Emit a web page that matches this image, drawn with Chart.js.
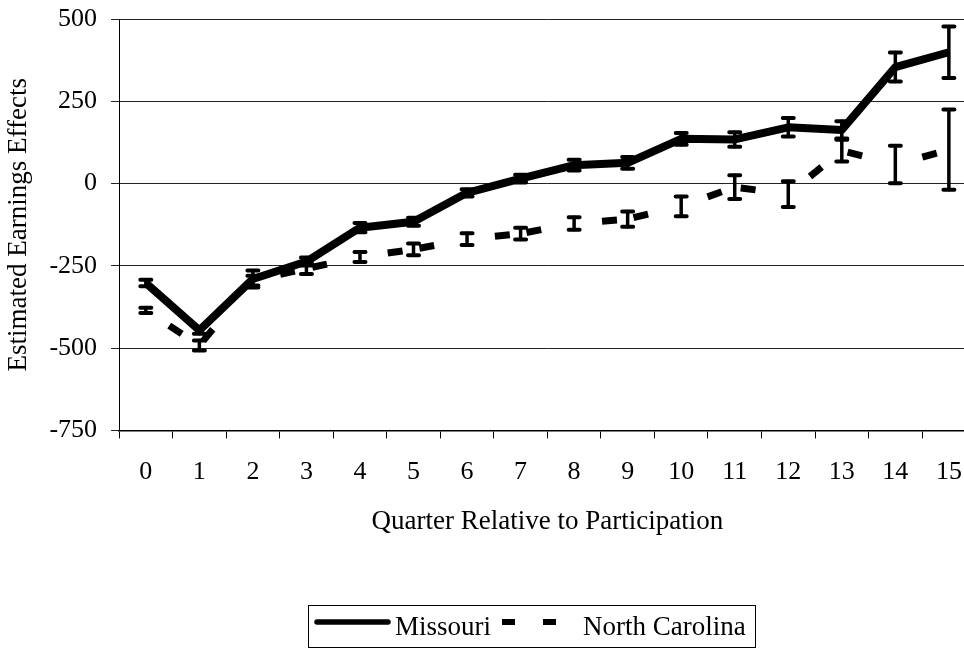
<!DOCTYPE html>
<html>
<head>
<meta charset="utf-8">
<script src="https://cdn.jsdelivr.net/npm/chart.js@4/dist/chart.umd.min.js"></script>
<style>
  html, body { margin: 0; padding: 0; background: #fff; overflow: hidden; }
  #wrap { width: 980px; height: 650px; }
</style>
</head>
<body>
<div id="wrap"><canvas id="c" width="980" height="650"></canvas></div>
<script>
// Quarters relative to program participation
const quarters = ['0', '1', '2', '3', '4', '5', '6', '7', '8', '9', '10', '11', '12', '13', '14', '15'];

// Estimated earnings effects and their error half-widths
const missouri    = [-302, -446, -290, -237, -134, -116, -28, 15, 56, 63, 136, 134, 171, 163, 354, 399];
const missouriErr = [10, 10, 26, 12, 14, 12, 11, 12, 16, 18, 18, 22, 28, 26, 44, 78];

const northCarolina    = [-385, -492, -295, -258, -223, -200, -169, -152, -121, -108, -69, -11, -32, 100, 58, 103];
const northCarolinaErr = [8, 15, 15, 17, 15, 18, 18, 18, 19, 23, 30, 36, 39, 33, 57, 122];

const yTicks = [-750, -500, -250, 0, 250, 500];

const FONT = '"Liberation Serif", "Times New Roman", Times, serif';

// Vertical whiskers with flat caps, placed through the chart scales
const errorBars = {
  id: 'errorBars',
  afterDatasetsDraw(chart) {
    const ctx = chart.ctx;
    const xs = chart.scales.x, ys = chart.scales.y;
    ctx.save();
    ctx.strokeStyle = '#000';
    ctx.lineCap = 'round';
    chart.data.datasets.forEach(ds => {
      ds.data.forEach((v, i) => {
        const e = ds.errors[i];
        const px = xs.getPixelForValue(i);
        const top = ys.getPixelForValue(v + e);
        const bot = ys.getPixelForValue(v - e);
        ctx.lineWidth = 3.5;
        ctx.beginPath();
        ctx.moveTo(px, top);
        ctx.lineTo(px, bot);
        ctx.stroke();
        ctx.lineWidth = 4;
        ctx.beginPath();
        ctx.moveTo(px - 5.5, top); ctx.lineTo(px + 5.5, top);
        ctx.moveTo(px - 5.5, bot); ctx.lineTo(px + 5.5, bot);
        ctx.stroke();
      });
    });
    ctx.restore();
  }
};

// Boxed legend below the axis title
const boxLegend = {
  id: 'boxLegend',
  afterDraw(chart) {
    const ctx = chart.ctx;
    ctx.save();
    ctx.strokeStyle = '#000';
    ctx.lineWidth = 1;
    ctx.strokeRect(308.5, 605.5, 447, 42);

    ctx.lineCap = 'round';
    ctx.lineWidth = 5.5;
    ctx.beginPath();
    ctx.moveTo(317, 622);
    ctx.lineTo(388, 622);
    ctx.stroke();

    ctx.fillStyle = '#000';
    ctx.fillRect(502, 619, 13, 6);
    ctx.fillRect(543, 619, 13, 6);

    ctx.font = '27px ' + FONT;
    ctx.textBaseline = 'alphabetic';
    ctx.textAlign = 'left';
    ctx.fillText(chart.data.datasets[0].label, 395, 635);
    ctx.fillText(chart.data.datasets[1].label, 583, 635);
    ctx.restore();
  }
};

new Chart(document.getElementById('c'), {
  type: 'line',
  data: {
    labels: quarters,
    datasets: [
      {
        label: 'Missouri',
        data: missouri,
        errors: missouriErr,
        borderColor: '#000',
        borderWidth: 8,
        borderJoinStyle: 'round',
        pointRadius: 0,
        tension: 0
      },
      {
        label: 'North Carolina',
        data: northCarolina,
        errors: northCarolinaErr,
        borderColor: '#000',
        borderWidth: 7,
        pointRadius: 0,
        tension: 0,
        segment: {
          borderDash: () => [15, 1000],
          borderDashOffset: c => (c.p0DataIndex % 2 === 0 ? 987 : 1009)
        }
      }
    ]
  },
  options: {
    responsive: false,
    animation: false,
    devicePixelRatio: 1,
    layout: { padding: { left: 0, top: 19, right: 4, bottom: 112 } },
    plugins: { legend: { display: false }, tooltip: { enabled: false } },
    scales: {
      x: {
        offset: true,
        grid: { offset: true, drawOnChartArea: false, tickLength: 8, color: '#000' },
        border: { color: '#000', width: 1.5 },
        ticks: { font: { family: FONT, size: 26 }, color: '#000', padding: 18, maxRotation: 0, autoSkip: false },
        title: {
          display: true,
          text: 'Quarter Relative to Participation',
          font: { family: FONT, size: 27 },
          color: '#000',
          padding: { top: 0, bottom: 0 }
        }
      },
      y: {
        min: -750,
        max: 500,
        afterBuildTicks: s => { s.ticks = yTicks.map(v => ({ value: v })); },
        afterFit: s => { s.paddingTop = 0; s.paddingBottom = 0; },
        grid: { color: '#222', tickLength: 8 },
        border: { color: '#000', width: 1 },
        ticks: { font: { family: FONT, size: 26 }, color: '#000', padding: 14 },
        title: {
          display: true,
          text: 'Estimated Earnings Effects',
          font: { family: FONT, size: 27 },
          color: '#000',
          padding: { top: 3, bottom: 0 }
        }
      }
    }
  },
  plugins: [errorBars, boxLegend]
});
</script>
</body>
</html>
